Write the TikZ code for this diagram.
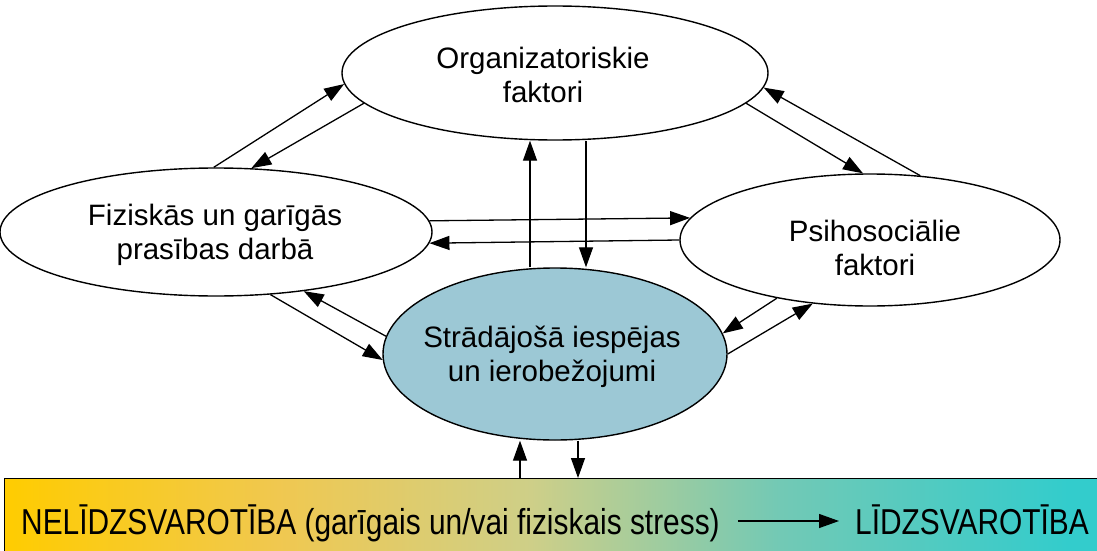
\documentclass[tikz,border=0pt]{standalone}
\usepackage{fontspec}
\usepackage{graphicx}
\setmainfont{Liberation Sans}
\usetikzlibrary{arrows.meta,shapes.geometric}
\definecolor{ctrfill}{HTML}{9CC8D5}
\definecolor{bzero}{HTML}{FFCC00}
\definecolor{bone}{HTML}{F0C850}
\definecolor{btwo}{HTML}{CECF88}
\definecolor{bthree}{HTML}{72C9B5}
\definecolor{bfour}{HTML}{33CCCC}
\pgfdeclarehorizontalshading{bandshade}{100bp}{color(0bp)=(bzero); color(25bp)=(bzero); color(37.5bp)=(bone); color(49bp)=(btwo); color(60.4bp)=(bthree); color(73.5bp)=(bfour); color(100bp)=(bfour)}
\begin{document}
\begin{tikzpicture}[x=1pt,y=-1pt,
  ell/.style={ellipse, draw, line width=1.4pt, inner sep=0pt},
  lbl/.style={align=center, font=\fontsize{29.5}{34}\selectfont, inner sep=0pt},
  arr/.style={line width=1.3pt, -{Triangle[length=20pt,width=14pt]}},
  bandtxt/.style={font=\fontsize{36}{40}\selectfont, inner sep=0pt, text height=26pt, text depth=0pt, anchor=base west}]
\path[use as bounding box, clip] (0,0) rectangle (1097,551);
\fill[white] (0,0) rectangle (1097,551);
% band
\node[draw, line width=1.4pt, shading=bandshade, minimum width=1096pt, minimum height=82pt, inner sep=0pt, anchor=north west] (band) at (4,478) {};
% ellipses
\node[ell, fill=white, minimum width=426pt, minimum height=134pt] (org) at (555,73) {};
\node[ell, fill=white, minimum width=432pt, minimum height=128pt] (lf) at (216,232) {};
\node[ell, fill=white, minimum width=380pt, minimum height=132pt] (rt) at (870,240) {};
\node[ell, fill=ctrfill, minimum width=344pt, minimum height=172pt] (ctr) at (555,354) {};
% labels
\node[lbl] (orgtxt) at (543,75) {Organizatoriskie\\faktori};
\node[lbl] (lftxt) at (215,235) {Fiziskās un garīgās\\prasības darbā};
\node[lbl] (rttxt) at (875,248) {Psihosociālie\\faktori};
\node[lbl] (ctrtxt) at (552,357) {Strādājošā iespējas\\un ierobežojumi};
% connectors
\draw[arr] (lf.92.6) -- (org.183.6);
\draw[arr] (org.189) -- (lf.61.3);
\draw[arr] (org.351) -- (rt.96.7);
\draw[arr] (rt.52.7) -- (org.356.1);
\draw[arr] (lf.3) -- (rt.173.97);
\draw[arr] (rt.180.9) -- (lf.357.1);
\draw[arr] (lf.311.6) -- (ctr.182.4);
\draw[arr] (ctr.174.5) -- (lf.326.6);
\draw[arr] (rt.212.5) -- (ctr.7.9);
\draw[arr] (ctr.0.7) -- (rt.228);
\draw[arr] ([xshift=-25pt]ctr.north) -- ([xshift=-25pt]org.south);
\draw[arr] ([xshift=31pt]org.south) -- ([xshift=31pt]ctr.north);
\coordinate (bup) at ([xshift=-35pt]ctr.south);
\coordinate (bdn) at ([xshift=23pt]ctr.south);
\draw[arr] (bup |- band.north) -- (bup);
\draw[arr] (bdn) -- (bdn |- band.north);
% band texts
\node[bandtxt] (t1) at (21,534) {\scalebox{0.83}[1]{NELĪDZSVAROTĪBA (garīgais un/vai fiziskais stress)}};
\node[bandtxt] (t2) at (855,534) {\scalebox{0.83}[1]{LĪDZSVAROTĪBA}};
\draw[arr] (t1.east) ++(18,0) coordinate (a0) (a0) -- (t2.west) [shorten >=16pt];
\end{tikzpicture}
\end{document}
